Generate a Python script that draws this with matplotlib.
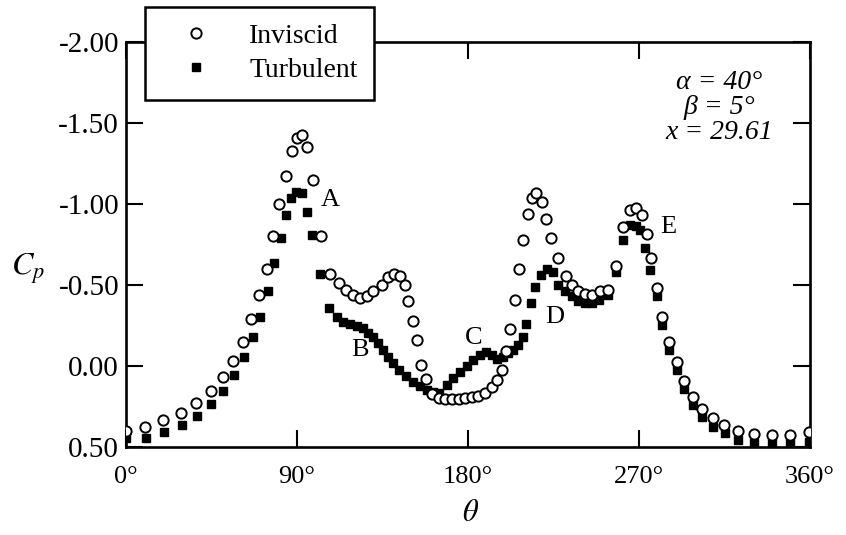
import matplotlib
matplotlib.use("Agg")
import matplotlib.pyplot as plt
from matplotlib.lines import Line2D

# --- datos ---
theta_inv = [0, 10, 19.6, 29, 37, 44.6, 51, 56.5, 61.8, 66, 70, 74, 77.5, 80.7,
             84.2, 87.2, 89.8, 92.8, 95.4, 98.2, 102.6, 107.5, 112, 116, 119.6,
             123, 126.7, 130, 134.6, 138, 141, 144, 147, 148.6, 151, 153, 155,
             157.7, 161, 164.5, 168, 171.5, 175, 178.5, 182, 185.5, 189, 192.5,
             195, 197.7, 200, 202, 204.7, 206.8, 209, 211.4, 213.5, 216, 218.8,
             221, 223.7, 227.2, 231.6, 234.6, 238, 241.6, 245, 249.5, 253.8,
             257.8, 261.7, 265.3, 268.4, 271.4, 274, 276.3, 279.6, 282, 286,
             289.8, 293.8, 298.2, 303, 309, 314.7, 322, 330.5, 339.8, 349.5, 359.6]
cp_inv = [0.40, 0.375, 0.333, 0.29, 0.23, 0.155, 0.066, -0.03, -0.15, -0.29,
          -0.44, -0.60, -0.80, -1.00, -1.175, -1.33, -1.41, -1.425, -1.35, -1.15,
          -0.80, -0.57, -0.51, -0.47, -0.44, -0.42, -0.43, -0.46, -0.50, -0.55,
          -0.566, -0.555, -0.50, -0.40, -0.28, -0.16, -0.006, 0.08, 0.17, 0.195,
          0.203, 0.205, 0.203, 0.198, 0.19, 0.185, 0.165, 0.13, 0.086, 0.025,
          -0.09, -0.23, -0.41, -0.60, -0.78, -0.94, -1.035, -1.065, -1.015, -0.91,
          -0.79, -0.665, -0.555, -0.50, -0.46, -0.444, -0.44, -0.46, -0.47, -0.62,
          -0.86, -0.963, -0.977, -0.93, -0.815, -0.665, -0.483, -0.30, -0.146,
          -0.023, 0.093, 0.19, 0.268, 0.323, 0.364, 0.40, 0.42, 0.426, 0.426, 0.405]

theta_turb = [0, 10.5, 20, 29.3, 37.5, 44.6, 51.2, 57, 62, 66.7, 70.5, 74.6, 78,
              81.4, 84, 86.7, 89.3, 92.5, 95.4, 97.7, 102.3, 107, 110.9, 114.4,
              117.9, 121.4, 124.9, 127.5, 130.2, 132.8, 135.4, 138, 140.7, 143.9,
              147.4, 151.2, 154.7, 158.3, 161.7, 164.5, 168.7, 172.3, 175.8, 179.3,
              182.8, 186.3, 189.5, 192.5, 195.4, 198.6, 201.2, 203.8, 206.5, 208.8,
              210.5, 213, 215.5, 218.5, 221.4, 224.5, 227.5, 231, 234.6, 238, 241.6,
              245, 249, 253.8, 257.9, 261.7, 265.5, 268.4, 270.5, 273, 276, 279.3,
              282, 286, 289.8, 293.8, 298.2, 303, 309, 315.3, 322, 330.5, 339.8,
              349.5, 359.6]
cp_turb = [0.447, 0.443, 0.405, 0.364, 0.31, 0.235, 0.155, 0.056, -0.053, -0.177,
           -0.305, -0.463, -0.634, -0.79, -0.93, -1.035, -1.076, -1.066, -0.952,
           -0.81, -0.566, -0.356, -0.305, -0.274, -0.26, -0.247, -0.233, -0.206,
           -0.177, -0.14, -0.10, -0.057, -0.017, 0.025, 0.062, 0.097, 0.123, 0.148,
           0.158, 0.168, 0.117, 0.076, 0.035, 0.0, -0.037, -0.068, -0.088, -0.07,
           -0.045, -0.055, -0.078, -0.10, -0.13, -0.18, -0.26, -0.39, -0.49, -0.56,
           -0.597, -0.58, -0.50, -0.46, -0.43, -0.40, -0.39, -0.39, -0.41, -0.44,
           -0.58, -0.78, -0.87, -0.865, -0.84, -0.727, -0.59, -0.43, -0.253, -0.10,
           0.025, 0.144, 0.24, 0.313, 0.375, 0.416, 0.457, 0.473, 0.477, 0.473, 0.467]

x_ticks = [0, 90, 180, 270, 360]
x_ticklabels = ["0°", "90°", "180°", "270°", "360°"]
y_ticks = [-2.0, -1.5, -1.0, -0.5, 0.0, 0.5]
y_ticklabels = ["-2.00", "-1.50", "-1.00", "-0.50", "0.00", "0.50"]

# etiquetas A-E (theta, Cp)
letras = ["A", "B", "C", "D", "E"]
letras_x = [107.4, 123.2, 183, 225.8, 285.3]
letras_y = [-1.025, -0.099, -0.173, -0.30, -0.858]

plt.rcParams["font.family"] = ["Liberation Serif", "DejaVu Serif"]
plt.rcParams["mathtext.fontset"] = "stix"
plt.rcParams["axes.unicode_minus"] = False

fig = plt.figure(figsize=(8.46, 5.35), dpi=100)
ax = fig.add_axes([126 / 846, 1 - 447 / 535, 684 / 846, 405 / 535])

ax.plot(theta_turb, cp_turb, "s", color="black", markersize=5.8, zorder=3)
ax.plot(theta_inv, cp_inv, "o", markerfacecolor="white", markeredgecolor="black",
        markeredgewidth=1.4, markersize=7.4, zorder=4)

ax.set_xlim(0, 360)
ax.set_ylim(0.5, -2.0)
ax.set_xticks(x_ticks)
ax.set_xticklabels(x_ticklabels)
ax.set_yticks(y_ticks)
ax.set_yticklabels(y_ticklabels)
ax.tick_params(direction="in", top=True, right=True, length=12, width=1.5)
ax.tick_params(axis="x", pad=14, labelsize=19)
ax.tick_params(axis="y", pad=5, labelsize=21)
for s in ax.spines.values():
    s.set_linewidth(1.9)

ax.set_ylabel("$C_p$", rotation=0, fontsize=23, va="center", ha="center")
ax.yaxis.set_label_coords(-0.143, 0.44)
ax.set_xlabel(r"$\theta$", fontsize=22, va="center")
ax.xaxis.set_label_coords(0.503, -0.163)

for l, lx, ly in zip(letras, letras_x, letras_y):
    ax.text(lx, ly, l, fontsize=19, ha="center", va="center", zorder=5)

ax.text(0.867, 0.838, "α = 40°\nβ = 5°\nx = 29.61", transform=ax.transAxes,
        fontsize=20, fontstyle="italic", ha="center", va="center", linespacing=1.0)

# leyenda
h_inv = Line2D([], [], ls="none", marker="o", markerfacecolor="white",
               markeredgecolor="black", markeredgewidth=1.4, markersize=7.4)
h_turb = Line2D([], [], ls="none", marker="s", color="black", markersize=5.8)
leg = ax.legend([h_inv, h_turb], ["Inviscid", "Turbulent"], loc="upper left",
                bbox_to_anchor=(145 / 846, 1 - 7 / 535), bbox_transform=fig.transFigure,
                borderaxespad=0, fontsize=20, frameon=True, fancybox=False,
                framealpha=1, edgecolor="black", handlelength=2.5,
                handletextpad=0.65, borderpad=0.6, labelspacing=0.3)
leg.get_frame().set_linewidth(1.8)
leg.set_zorder(10)

fig.savefig("out.png", dpi=100)
